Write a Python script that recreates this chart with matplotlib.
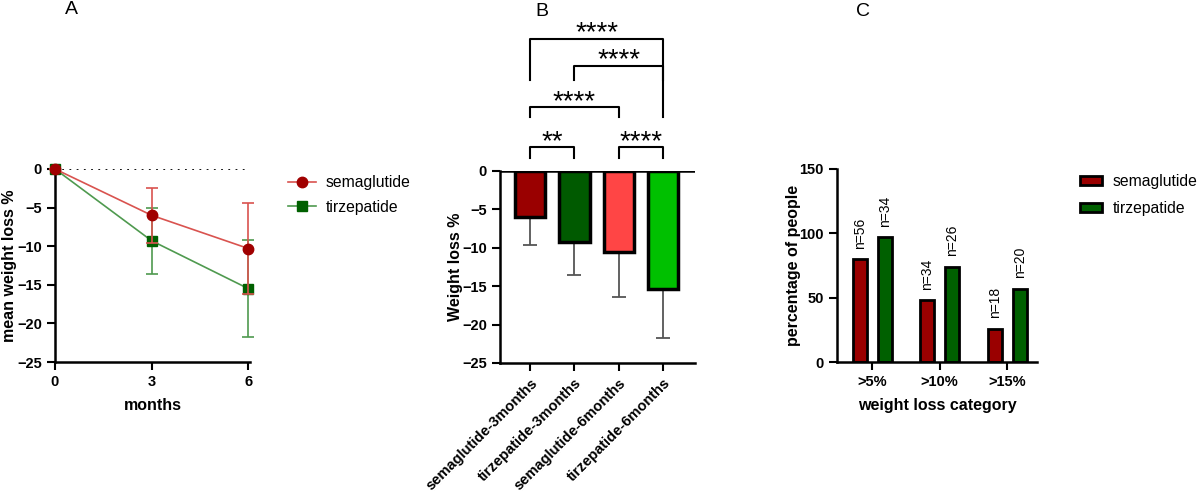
import matplotlib
matplotlib.use("Agg")
import matplotlib.pyplot as plt
import numpy as np
from matplotlib.patches import Patch
from matplotlib.lines import Line2D

plt.rcParams['font.family'] = ['Liberation Sans', 'DejaVu Sans']

# ---- Panel A data ----
months = [0, 3, 6]
sema_mean = [0, -6.0, -10.3]
sema_sd = [0, 3.6, 5.9]
tirz_mean = [0, -9.3, -15.5]
tirz_sd = [0, 4.3, 6.3]

# ---- Panel B data ----
b_groups = ["semaglutide-3months", "tirzepatide-3months",
            "semaglutide-6months", "tirzepatide-6months"]
b_values = [-6.0, -9.2, -10.5, -15.4]
b_err = [3.6, 4.4, 5.9, 6.4]
b_colors = ["#9a0000", "#005a00", "#ff4545", "#00c000"]
# significance brackets: (i, j, y, left_leg_bottom, right_leg_bottom, label)
b_sig = [(0, 1, 3.1, 1.7, 1.7, "**"),
         (2, 3, 3.1, 1.7, 1.7, "****"),
         (0, 2, 8.3, 7.0, 7.0, "****"),
         (1, 3, 13.7, 11.8, 7.0, "****"),
         (0, 3, 17.2, 11.8, 11.8, "****")]

# ---- Panel C data ----
c_categories = [">5%", ">10%", ">15%"]
c_sema = [80, 48, 26]
c_tirz = [97, 74, 57]
c_sema_n = ["n=56", "n=34", "n=18"]
c_tirz_n = ["n=34", "n=26", "n=20"]

W, H = 1200, 493
fig = plt.figure(figsize=(W / 100, H / 100), dpi=100)

def ax_px(l, r, top, bot):
    return fig.add_axes([l / W, 1 - bot / H, (r - l) / W, (bot - top) / H])

red_line = "#d9534f"
red_mark = "#a00000"
green_line = "#4f9a4f"
green_mark = "#006000"

tick_fs = 10.5
lab_fs = 11.5

def style(ax, ylab_x, xlab_y=None):
    for s in ["top", "right"]:
        ax.spines[s].set_visible(False)
    for s in ["left", "bottom"]:
        ax.spines[s].set_linewidth(1.8)
    ax.tick_params(width=1.5, length=6, labelsize=tick_fs)
    for lbl in ax.get_xticklabels() + ax.get_yticklabels():
        lbl.set_fontweight('bold')
    ax.yaxis.set_label_coords(ylab_x, 0.5)
    if xlab_y is not None:
        ax.xaxis.set_label_coords(0.5, xlab_y)

# ---------- Panel A ----------
axA = ax_px(55, 250, 169, 362)
axA.plot([0, 6], [0, 0], linestyle=(0, (1, 3)), color='black', lw=1.3, zorder=1)
axA.errorbar(months, sema_mean, yerr=sema_sd, color=red_line, lw=1.2,
             marker='o', ms=7.5, mfc=red_mark, mec=red_mark, capsize=4,
             ecolor=red_line, elinewidth=1.2, capthick=1.2, clip_on=False,
             label='semaglutide', zorder=3)
axA.errorbar(months, tirz_mean, yerr=tirz_sd, color=green_line, lw=1.2,
             marker='s', ms=7, mfc=green_mark, mec=green_mark, capsize=4,
             ecolor=green_line, elinewidth=1.2, capthick=1.2, clip_on=False,
             label='tirzepatide', zorder=2)
axA.set_xlim(0, 6.05)
axA.set_ylim(-25, 0)
axA.set_xticks(months)
axA.set_yticks([0, -5, -10, -15, -20, -25])
axA.set_xlabel("months", fontsize=lab_fs, fontweight='bold')
axA.set_ylabel("mean weight loss %", fontsize=lab_fs, fontweight='bold')
style(axA, -0.195, -0.187)
hA = [Line2D([0], [0], color=red_line, marker='o', mfc=red_mark, mec=red_mark, ms=7.5, lw=1.2),
      Line2D([0], [0], color=green_line, marker='s', mfc=green_mark, mec=green_mark, ms=7, lw=1.2)]
fig.legend(hA, ["semaglutide", "tirzepatide"], loc='center left',
           bbox_to_anchor=(288 / W, 1 - 195 / H), frameon=False, fontsize=11.3,
           handlelength=1.8, handletextpad=0.6, labelspacing=0.6,
           borderaxespad=0, borderpad=0)
fig.text(71 / W, 1 - 10 / H, "A", fontsize=14, ha='center', va='center')

# ---------- Panel B ----------
axB = ax_px(500, 695, 171, 363)
xb = np.arange(len(b_groups))
axB.bar(xb, b_values, width=0.68, color=b_colors, edgecolor='black', lw=2.5, zorder=2)
axB.errorbar(xb, b_values, yerr=[b_err, [0] * 4], fmt='none', ecolor='#555555',
             elinewidth=1.3, capsize=5, capthick=1.3, zorder=1)
axB.set_xlim(-0.68, 3.72)
axB.set_ylim(-25, 0)
axB.set_yticks([0, -5, -10, -15, -20, -25])
axB.set_xticks(xb)
axB.set_xticklabels(b_groups, rotation=45, ha='right', rotation_mode='anchor')
axB.set_ylabel("Weight loss %", fontsize=lab_fs, fontweight='bold')
style(axB, -0.19)
axB.axhline(0, color='black', lw=1.8, zorder=3)
for i, j, y, lb, rb, lab in b_sig:
    axB.plot([i, i, j, j], [lb, y, y, rb], color='black', lw=1.5, clip_on=False)
    axB.text((i + j) / 2, y - 0.2, lab, ha='center', va='baseline', fontsize=20,
             fontweight='normal', clip_on=False)
fig.text(542 / W, 1 - 11 / H, "B", fontsize=14, ha='center', va='center')

# ---------- Panel C ----------
axC = ax_px(837, 1037, 169, 362)
xc = np.arange(len(c_categories))
off = 0.185
bw = 0.21
axC.bar(xc - off, c_sema, width=bw, color="#9a0000", edgecolor='black', lw=2, label='semaglutide')
axC.bar(xc + off, c_tirz, width=bw, color="#006000", edgecolor='black', lw=2, label='tirzepatide')
for k in range(len(xc)):
    axC.text(xc[k] - off, c_sema[k] + 8, c_sema_n[k], rotation=90, ha='center', va='bottom', fontsize=10)
    axC.text(xc[k] + off, c_tirz[k] + 8, c_tirz_n[k], rotation=90, ha='center', va='bottom', fontsize=10)
axC.set_xlim(-0.52, 2.44)
axC.set_ylim(0, 150)
axC.set_yticks([0, 50, 100, 150])
axC.set_xticks(xc)
axC.set_xticklabels(c_categories)
axC.set_xlabel("weight loss category", fontsize=lab_fs, fontweight='bold')
axC.set_ylabel("percentage of people", fontsize=lab_fs, fontweight='bold')
style(axC, -0.18, -0.187)
hC = [Patch(facecolor="#9a0000", edgecolor='black', lw=2),
      Patch(facecolor="#006000", edgecolor='black', lw=2)]
fig.legend(hC, ["semaglutide", "tirzepatide"], loc='center left',
           bbox_to_anchor=(1080 / W, 1 - 195 / H), frameon=False, fontsize=11.3,
           handlelength=1.4, handleheight=0.55, handletextpad=0.7, labelspacing=0.75,
           borderaxespad=0, borderpad=0)
fig.text(863 / W, 1 - 11 / H, "C", fontsize=14, ha='center', va='center')

fig.savefig("out.png", dpi=100)
